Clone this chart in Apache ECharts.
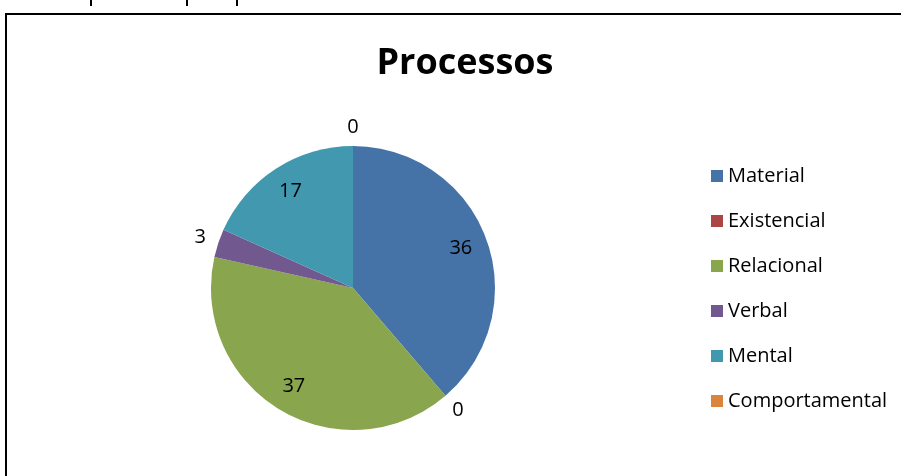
<!DOCTYPE html>
<html>
<head>
<meta charset="utf-8">
<script src="https://cdn.jsdelivr.net/npm/echarts@6/dist/echarts.min.js"></script>
<style>html,body{margin:0;padding:0;background:#fff;}#c{width:901px;height:476px;}</style>
</head>
<body>
<div id="c"></div>
<script>
const categories = ['Material', 'Existencial', 'Relacional', 'Verbal', 'Mental', 'Comportamental'];
const values = [36, 0, 37, 3, 17, 0];
const colors = ['#4572A7', '#AA4643', '#89A54E', '#71588F', '#4198AF', '#DB843D'];
const insideLabel = [true, false, true, false, true, false];

const chart = echarts.init(document.getElementById('c'));
const font = '"Open Sans", "Noto Sans", sans-serif';
const center = [353, 288];

const base = categories.map((n, i) => ({ name: n, value: values[i], itemStyle: { color: colors[i] } }));

chart.setOption({
  backgroundColor: '#fff',
  animation: false,
  title: {
    text: 'Processos', left: 460, top: 41, textAlign: 'center',
    textStyle: { fontFamily: font, fontSize: 36, fontWeight: 'bold', color: '#000' }
  },
  legend: {
    orient: 'vertical', left: 706, top: 161,
    itemWidth: 12, itemHeight: 12, itemGap: 25,
    icon: 'rect',
    data: categories,
    textStyle: { fontFamily: font, fontSize: 20, color: '#000', lineHeight: 20 }
  },
  graphic: [
    { type: 'rect', shape: { x: 6, y: 14, width: 920, height: 480 }, style: { fill: 'none', stroke: '#000', lineWidth: 2 }, silent: true },
    { type: 'rect', shape: { x: 90, y: 0, width: 2, height: 6 }, style: { fill: '#000' } },
    { type: 'rect', shape: { x: 186, y: 0, width: 2, height: 6 }, style: { fill: '#000' } },
    { type: 'rect', shape: { x: 236, y: 0, width: 2, height: 6 }, style: { fill: '#000' } }
  ],
  series: [
    {
      type: 'pie', center: center, radius: [0, 142], startAngle: 90, clockwise: true,
      avoidLabelOverlap: false, label: { show: false }, labelLine: { show: false },
      itemStyle: { borderWidth: 0 }, emphasis: { disabled: true },
      data: base
    },
    {
      type: 'pie', center: center, radius: [82, 142], startAngle: 90, clockwise: true, silent: true,
      avoidLabelOverlap: false, labelLine: { show: false }, legendHoverLink: false,
      itemStyle: { color: 'rgba(0,0,0,0)', borderWidth: 0 }, emphasis: { disabled: true },
      label: { position: 'inside', fontFamily: font, fontSize: 20, color: '#000', formatter: '{c}' },
      data: categories.map((n, i) => ({ name: n, value: values[i], label: { show: insideLabel[i] } }))
    },
    {
      type: 'pie', center: center, radius: [146, 170], startAngle: 90, clockwise: true, silent: true,
      avoidLabelOverlap: false, labelLine: { show: false }, legendHoverLink: false,
      itemStyle: { color: 'rgba(0,0,0,0)', borderWidth: 0 }, emphasis: { disabled: true },
      label: { position: 'inside', fontFamily: font, fontSize: 20, color: '#000', formatter: '{c}' },
      data: categories.map((n, i) => ({ name: n, value: values[i], label: { show: !insideLabel[i] } }))
    }
  ]
});
</script>
</body>
</html>
